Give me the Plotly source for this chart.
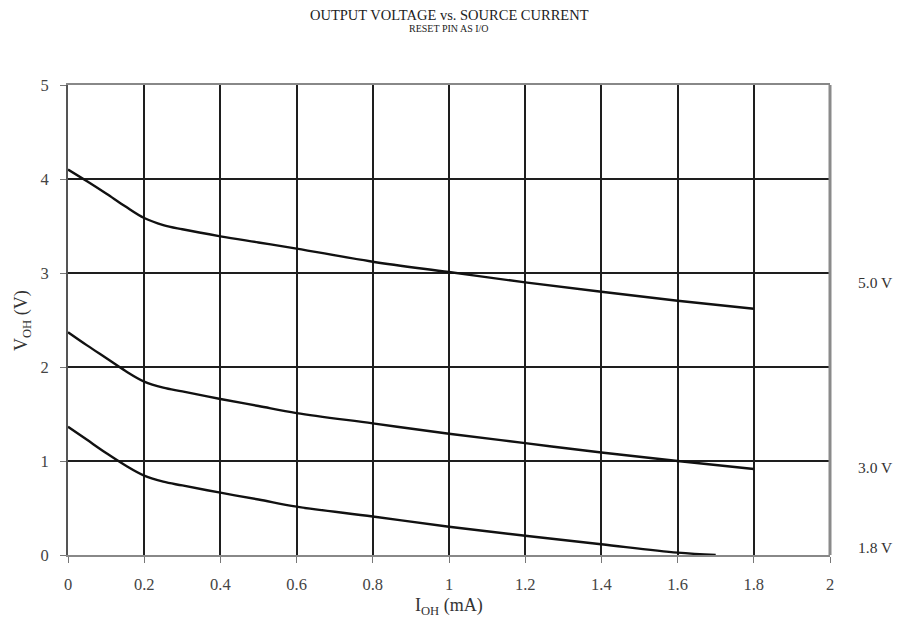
import plotly.graph_objects as go

current_ma = [0, 0.05, 0.1, 0.15, 0.2, 0.25, 0.3, 0.4, 0.5, 0.6, 0.8, 1.0, 1.2, 1.4, 1.6, 1.8]
voh_5v0 = [4.10, 3.975, 3.845, 3.71, 3.585, 3.51, 3.465, 3.39, 3.325, 3.26, 3.12, 3.01, 2.90, 2.80, 2.705, 2.62]
voh_3v0 = [2.37, 2.23, 2.095, 1.96, 1.845, 1.78, 1.74, 1.66, 1.585, 1.51, 1.40, 1.29, 1.19, 1.09, 1.00, 0.915]
current_1v8 = [0, 0.05, 0.1, 0.15, 0.2, 0.25, 0.3, 0.4, 0.5, 0.6, 0.8, 1.0, 1.2, 1.4, 1.6, 1.7]
voh_1v8 = [1.365, 1.225, 1.085, 0.955, 0.845, 0.78, 0.74, 0.663, 0.59, 0.514, 0.41, 0.30, 0.205, 0.114, 0.025, 0.0]

series_labels = ["5.0 V", "3.0 V", "1.8 V"]
label_y = [2.90, 0.926, 0.085]

x_ticks = [0, 0.2, 0.4, 0.6, 0.8, 1, 1.2, 1.4, 1.6, 1.8, 2]
y_ticks = [0, 1, 2, 3, 4, 5]

serif = "Liberation Serif, Times New Roman, serif"

fig = go.Figure()
for xs, ys in [(current_ma, voh_5v0), (current_ma, voh_3v0), (current_1v8, voh_1v8)]:
    fig.add_trace(go.Scatter(x=xs, y=ys, mode="lines",
                             line=dict(color="#111111", width=2.4, shape="spline", smoothing=1.0),
                             showlegend=False, hoverinfo="skip"))

for lab, ly in zip(series_labels, label_y):
    fig.add_annotation(x=1.0, xref="paper", xanchor="left", xshift=26, y=ly, yref="y",
                       text=lab, showarrow=False, font=dict(family=serif, size=15.5, color="#333"))

fig.add_annotation(x=0.5, xref="paper", y=1.149, yref="paper", yanchor="middle",
                   text="OUTPUT VOLTAGE vs. SOURCE CURRENT", showarrow=False,
                   font=dict(family=serif, size=14.5, color="#222"))
fig.add_annotation(x=0.5, xref="paper", y=1.121, yref="paper", yanchor="middle",
                   text="RESET PIN AS I/O", showarrow=False,
                   font=dict(family=serif, size=10, color="#222"))

# axis titles
fig.add_annotation(x=0.5, xref="paper", y=-0.1106, yref="paper", yanchor="middle",
                   text="I<sub>OH</sub> (mA)", showarrow=False,
                   font=dict(family=serif, size=18, color="#333"))
fig.add_annotation(x=-0.0604, xref="paper", xanchor="center", y=0.5, yref="paper",
                   text="V<sub>OH</sub> (V)", showarrow=False, textangle=-90,
                   font=dict(family=serif, size=18, color="#333"))

# right border
fig.add_shape(type="line", xref="paper", yref="paper", x0=1, x1=1, y0=0, y1=1,
              line=dict(color="#8a8a8a", width=3), layer="above")

fig.update_layout(
    width=902, height=632,
    margin=dict(l=60, r=80, t=77, b=85),
    paper_bgcolor="white", plot_bgcolor="white",
    font=dict(family=serif, size=16.5, color="#444"),
    xaxis=dict(range=[0, 2], tickvals=x_ticks, ticktext=[str(v) for v in x_ticks],
               showgrid=True, gridcolor="#1e1e1e", gridwidth=2,
               showline=True, linecolor="#888888", linewidth=2, mirror=True,
               ticks="outside", ticklen=6, tickcolor="#777", tickwidth=1,
               ticklabelstandoff=7, zeroline=False),
    yaxis=dict(range=[0, 5], tickvals=y_ticks,
               showgrid=True, gridcolor="#1e1e1e", gridwidth=2,
               showline=True, linecolor="#555555", linewidth=2,
               ticks="outside", ticklen=6, tickcolor="#777", tickwidth=1,
               ticklabelstandoff=8, zeroline=False),
)

fig.write_html("out.html")
